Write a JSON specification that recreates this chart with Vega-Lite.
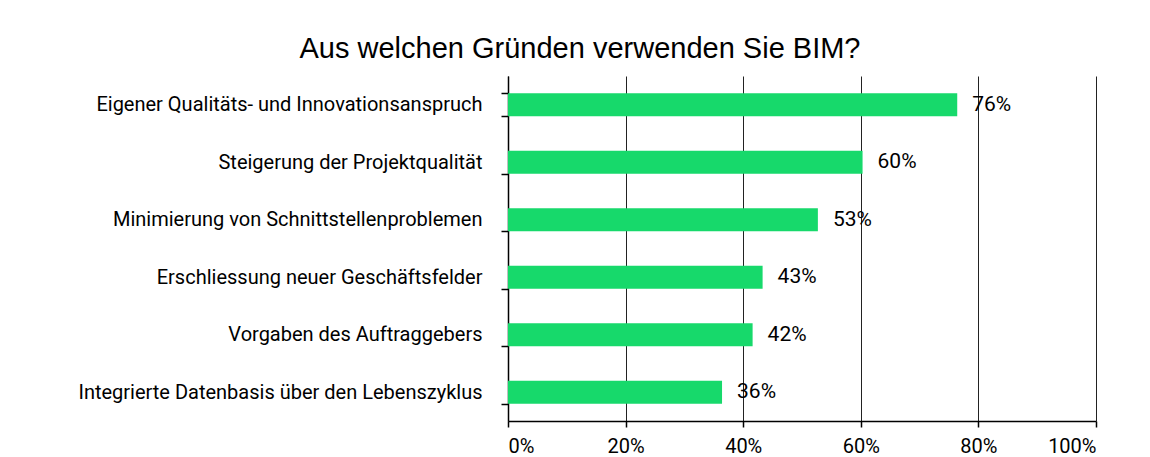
{
  "$schema": "https://vega.github.io/schema/vega-lite/v6.json",
  "autosize": "none",
  "width": 588,
  "height": 345,
  "padding": {"left": 508, "top": 76, "right": 54, "bottom": 36},
  "background": "white",
  "title": {
    "text": "Aus welchen Gründen verwenden Sie BIM?",
    "font": "Liberation Sans",
    "fontSize": 29,
    "fontWeight": "normal",
    "color": "black",
    "anchor": "middle",
    "frame": "group",
    "dx": -222,
    "baseline": "alphabetic",
    "offset": -21
  },
  "data": {
    "values": [
      {"grund": "Eigener Qualitäts- und Innovationsanspruch", "anteil": 0.764},
      {"grund": "Steigerung der Projektqualität", "anteil": 0.603},
      {"grund": "Minimierung von Schnittstellenproblemen", "anteil": 0.527},
      {"grund": "Erschliessung neuer Geschäftsfelder", "anteil": 0.433},
      {"grund": "Vorgaben des Auftraggebers", "anteil": 0.416},
      {"grund": "Integrierte Datenbasis über den Lebenszyklus", "anteil": 0.364}
    ]
  },
  "config": {
    "view": {"stroke": null},
    "font": "Roboto"
  },
  "encoding": {
    "y": {
      "field": "grund",
      "type": "nominal",
      "sort": null,
      "scale": {"paddingInner": 0.6, "paddingOuter": 0.3},
      "axis": {
        "title": null,
        "domainColor": "black",
        "domainWidth": 1.5,
        "tickColor": "black",
        "tickWidth": 1.5,
        "tickSize": 7,
        "tickBand": "extent",
        "labelFont": "Roboto",
        "labelFontSize": 20,
        "labelColor": "black",
        "labelPadding": 19,
        "labelLimit": 0,
        "grid": false
      }
    },
    "x": {
      "field": "anteil",
      "type": "quantitative",
      "scale": {"domain": [0, 1], "nice": false},
      "axis": {
        "title": null,
        "values": [0, 0.2, 0.4, 0.6, 0.8, 1],
        "format": ".0%",
        "domainColor": "black",
        "domainWidth": 1.5,
        "tickColor": "black",
        "tickWidth": 1.5,
        "tickSize": 6,
        "labelFont": "Roboto",
        "labelFontSize": 20,
        "labelColor": "black",
        "labelPadding": 9,
        "grid": true,
        "gridColor": "#222222",
        "gridWidth": 1,
        "gridOpacity": 1
      }
    }
  },
  "layer": [
    {"mark": {"type": "bar", "color": "#17d96b"}},
    {
      "mark": {"type": "text", "align": "left", "baseline": "middle", "dx": 15, "fontSize": 21, "font": "Roboto", "color": "black"},
      "encoding": {"text": {"field": "anteil", "type": "quantitative", "format": ".0%"}}
    }
  ]
}
